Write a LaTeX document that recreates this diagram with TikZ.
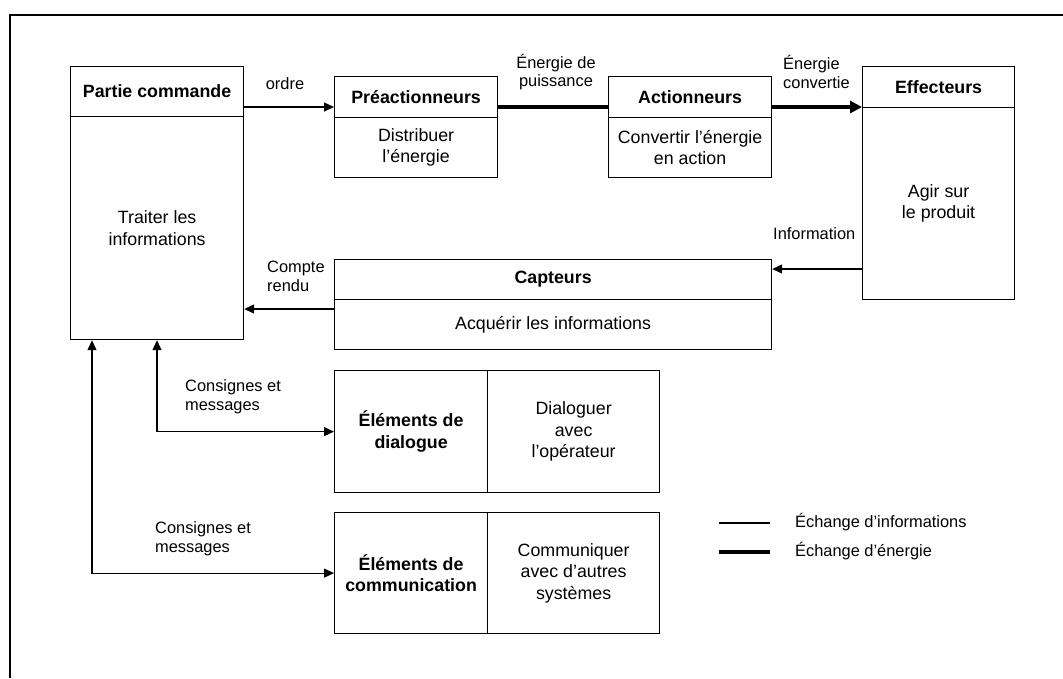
\documentclass[tikz,border=0pt]{standalone}
\usepackage{fontspec}
\setmainfont{Liberation Sans}
\usetikzlibrary{arrows.meta}
\begin{document}
\begin{tikzpicture}[x=1pt,y=-1pt,
  box/.style={draw, line width=1.2pt, inner sep=0pt, align=center, anchor=north west, font=\fontsize{17.8}{21.3}\selectfont},
  boxb/.style={box, font=\fontsize{17.8}{21.3}\selectfont\bfseries},
  lbl/.style={font=\fontsize{16.4}{18.8}\selectfont, inner sep=0pt},
  info/.style={line width=1.2pt},
  energy/.style={line width=4.5pt},
  tipa/.style={-{Triangle[length=10pt,width=9pt]}},
  tipb/.style={{Triangle[length=10pt,width=9pt]}-{Triangle[length=10pt,width=9pt]}},
  tipe/.style={-{Triangle[length=12pt,width=12pt]}},
  frame/.style={line width=2pt}
]
\useasboundingbox (0,0) rectangle (1063,678);
% outer frame (partly visible)
\draw[frame] (10,678) -- (10,15) -- (1063,15);

% Partie commande
\node[boxb, minimum width=173pt, minimum height=50pt] (pch) at (70,66) {Partie commande};
\node[box, minimum width=173pt, minimum height=223pt] (pcb) at (70,116) {Traiter les\\informations};

% Preactionneurs
\node[boxb, minimum width=163pt, minimum height=41pt] (preh) at (334,76) {Préactionneurs};
\node[box, minimum width=163pt, minimum height=60pt] (preb) at (334,117) {Distribuer\\l’énergie};

% Actionneurs
\node[boxb, minimum width=163pt, minimum height=41pt] (acth) at (608,76) {Actionneurs};
\node[box, minimum width=163pt, minimum height=60pt] (actb) at (608,117) {Convertir l’énergie\\en action};

% Effecteurs
\node[boxb, minimum width=152pt, minimum height=41pt] (effh) at (862,66) {Effecteurs};
\node[box, minimum width=152pt, minimum height=192pt] (effb) at (862,107) {Agir sur\\le produit};

% Capteurs
\node[boxb, minimum width=437pt, minimum height=40pt] (caph) at (334,259) {Capteurs};
\node[box, minimum width=437pt, minimum height=50pt] (capb) at (334,299) {Acquérir les informations};

% Elements de dialogue
\node[boxb, minimum width=153pt, minimum height=122pt] (dlg) at (334,370) {Éléments de\\dialogue};
\node[box, minimum width=172pt, minimum height=122pt] (dlgt) at (487,370) {Dialoguer\\avec\\l’opérateur};

% Elements de communication
\node[boxb, minimum width=153pt, minimum height=121pt] (com) at (334,512) {Éléments de\\communication};
\node[box, minimum width=172pt, minimum height=121pt] (comt) at (487,512) {Communiquer\\avec d’autres\\systèmes};

% helper coordinates
\coordinate (ey) at (0,107);
\coordinate (iy) at (0,269);
\coordinate (cy) at (0,309);
\coordinate (dx) at (157,0);
\coordinate (kx) at (92,0);

% connectors
\draw[info,tipa] (pch.east |- ey) -- (preh.west |- ey);
\draw[energy] (preh.east |- ey) -- (acth.west |- ey);
\draw[energy,tipe] (acth.east |- ey) -- (effh.west |- ey);
\draw[info,tipa] (effb.west |- iy) -- (caph.east |- iy);
\draw[info,tipa] (capb.west |- cy) -- (pcb.east |- cy);
\draw[info,tipb] (pcb.south -| dx) |- (dlg.west);
\draw[info,tipb] (pcb.south -| kx) |- (com.west);

% labels
\node[lbl] (lordre) at (285,84) {ordre};
\node[lbl, align=center] (lep) at (556,72) {Énergie de\\puissance};
\node[lbl, align=left, anchor=west] (lec) at (783,72) {Énergie\\convertie};
\node[lbl, anchor=west] (linf) at (773,234) {Information};
\node[lbl, align=left, anchor=west] (lcr) at (267,276) {Compte\\rendu};
\node[lbl, align=left, anchor=west] (lcm1) at (185,397) {Consignes et\\messages};
\node[lbl, align=left, anchor=west] (lcm2) at (155,539) {Consignes et\\messages};

% legend
\coordinate (la1) at (719,523);
\coordinate (lb1) at (770,523);
\coordinate (la2) at (719,552);
\coordinate (lb2) at (770,552);
\draw[info] (la1) -- (lb1);
\draw[energy] (la2) -- (lb2);
\node[lbl, anchor=west] (leg1) at (795,522) {Échange d’informations};
\node[lbl, anchor=west] (leg2) at (795,551) {Échange d’énergie};
\end{tikzpicture}
\end{document}
